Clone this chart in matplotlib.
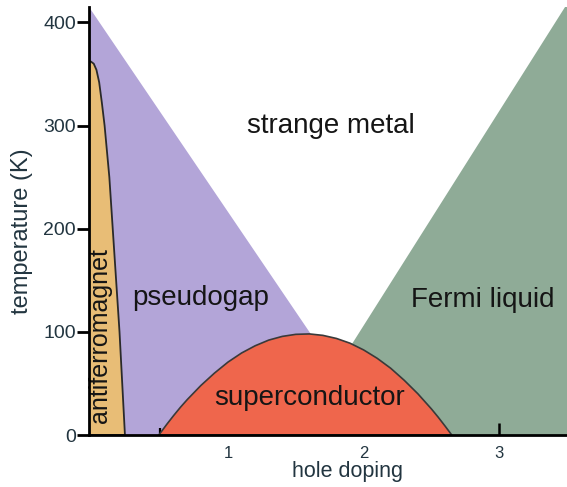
import matplotlib.pyplot as plt

# Phase regions (hole doping, temperature in K)
pseudogap_x = [-0.025, 1.6, 2.1, -0.025]
pseudogap_T = [415, 100, 0, 0]

fermi_x = [1.49, 3.5, 3.5]
fermi_T = [0, 418, 0]

afm_x = [-0.025, -0.01, 0.01, 0.03, 0.05, 0.07, 0.09, 0.125, 0.15, 0.175, 0.20, 0.22, 0.24, -0.025]
afm_T = [362, 362, 360, 354, 342, 322, 300, 250, 200, 150, 100, 50, 0, 0]

dome_x = [0.49, 0.55, 0.6, 0.65, 0.7, 0.8, 0.9, 1.0, 1.1, 1.2, 1.3, 1.4, 1.5, 1.6,
          1.7, 1.8, 1.9, 2.0, 2.1, 2.2, 2.3, 2.4, 2.5, 2.55, 2.6, 2.65]
dome_T = [0, 10.6, 19, 27, 34.4, 48, 60, 70.7, 79.5, 86.5, 92, 95.6, 97.6, 98,
          96.6, 93.6, 89, 82.5, 74.4, 64.7, 53, 40, 25.3, 17.3, 8.8, 0]

# Labels and ticks
region_labels = ['strange metal', 'pseudogap', 'Fermi liquid', 'superconductor']
label_x = [1.76, 0.795, 2.88, 1.6]
label_T = [293, 126, 124, 29]
yticks = [0, 100, 200, 300, 400]
xticks = [1, 2, 3]
xticks_minor = [0.5, 1.5, 2.5]

plt.rcParams['font.family'] = ['Liberation Sans', 'DejaVu Sans']

fig = plt.figure(figsize=(5.67, 4.87), dpi=100)
ax = fig.add_axes([89 / 567, 1 - 435 / 487, 1 - 89 / 567, 428 / 487])

ax.fill(pseudogap_x, pseudogap_T, color='#b3a5d8', lw=0, zorder=1)
ax.fill(fermi_x, fermi_T, color='#8fab97', lw=0, zorder=1)
ax.fill(afm_x, afm_T, facecolor='#e8bd76', edgecolor='#2a2a2a', lw=1.3, zorder=2)
ax.fill(dome_x, dome_T, facecolor='#ef664c', edgecolor='#3a3a3a', lw=1.2, zorder=3)

for txt, x, t in zip(region_labels, label_x, label_T):
    ax.text(x, t, txt, fontsize=20, ha='center', va='baseline', color='#151515', zorder=4)
ax.text(0.055, 96, 'antiferromagnet', fontsize=18, rotation=90, ha='center', va='center',
        color='#151515', zorder=4)

ax.set_xlim(-0.025, 3.5)
ax.set_ylim(0, 415)

ax.spines['top'].set_visible(False)
ax.spines['right'].set_visible(False)
for side in ['left', 'bottom']:
    ax.spines[side].set_linewidth(2.0)
    ax.spines[side].set_zorder(5)

ax.set_yticks(yticks)
ax.set_xticks(xticks)
ax.set_xticks(xticks_minor, minor=True)
ax.tick_params(axis='y', direction='out', length=8.5, width=2, pad=1, labelsize=14,
               labelcolor='#223540')
ax.tick_params(axis='x', which='major', direction='in', length=8.5, width=1.8, pad=8,
               labelsize=12, labelcolor='#223540')
ax.tick_params(axis='x', which='minor', direction='in', length=5, width=1.6)

ax.set_xlabel('hole doping', fontsize=15.5, color='#223540')
ax.xaxis.set_label_coords(0.54, -0.06)
ax.set_ylabel('temperature (K)', fontsize=17, color='#223540')
ax.yaxis.set_label_coords(-0.117, 0.477)

fig.savefig('out.png', dpi=100)
